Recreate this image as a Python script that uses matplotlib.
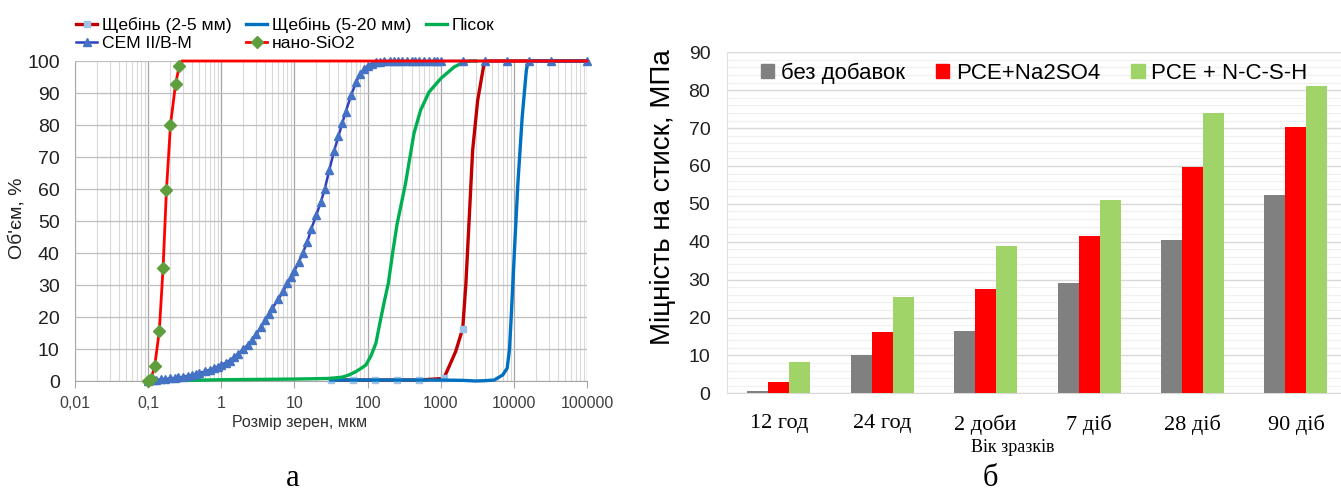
import matplotlib
matplotlib.use("Agg")
import matplotlib.pyplot as plt
from matplotlib.patches import Patch
from matplotlib.ticker import FixedLocator, NullFormatter
import numpy as np

plt.rcParams['font.family'] = ['Liberation Sans', 'DejaVu Sans']

# ---------------- Left chart data (particle size distribution) ----------------
sh25_x = [31.5, 63, 125, 250, 500, 1100, 1300, 1600, 2000, 2210, 2455, 2730, 3200, 3950, 4000, 100000]
sh25_y = [0.3, 0.3, 0.3, 0.3, 0.3, 0.8, 4.5, 9.2, 16.4, 30.5, 51, 72, 87.7, 99.7, 100, 100]
sh25_marked = [0, 1, 2, 3, 4, 5, 8]

sh520_x = [31.5, 63, 125, 250, 500, 1000, 2000, 3000, 4000, 5400, 7060, 8100, 8700, 9200,
           10200, 11350, 13000, 14800, 15600, 16000, 100000]
sh520_y = [0.3, 0.3, 0.3, 0.3, 0.3, 0.3, 0.2, 0.0, 0.1, 0.3, 1.9, 4.0, 9.7, 20, 41, 61.7,
           82.5, 97, 99.7, 100, 100]

sand_x = [0.35, 1, 10, 30, 45, 56, 70, 82, 95, 112, 130, 150, 170, 192, 220, 253, 290, 330,
          380, 430, 530, 692, 1000, 1520, 2000, 2500, 3000]
sand_y = [0.2, 0.4, 0.6, 0.8, 1.2, 1.9, 3.0, 4.0, 5.0, 8.0, 11.8, 19, 25, 30.5, 40, 49, 55.5,
          61.7, 70, 77.3, 84.6, 90.3, 94.5, 98.1, 99.5, 100, 100]

cem_x = [0.1, 0.115, 0.13, 0.15, 0.17, 0.2, 0.23, 0.26, 0.3, 0.35, 0.4, 0.45, 0.5, 0.6, 0.7,
         0.8, 0.9, 1.0, 1.15, 1.3, 1.5, 1.7, 2.0, 2.3, 2.6, 3.0, 3.5, 4.0, 4.5, 5.0, 6, 7, 8,
         9, 10, 11.5, 13, 15, 17, 20, 23, 26, 30, 35, 40, 45, 50, 60, 70, 80, 90, 100, 115,
         130, 150, 170, 200, 230, 260, 300, 350, 400, 450, 500, 600, 700, 800, 900, 1000,
         2000, 4000, 8000, 16000, 32000, 100000]
cem_y = [0, 0.2, 0.35, 0.5, 0.6, 0.8, 0.95, 1.1, 1.3, 1.6, 1.9, 2.2, 2.5, 3.0, 3.5, 4.0,
         4.5, 5.0, 5.7, 6.4, 7.4, 8.4, 9.9, 11.3, 12.7, 14.6, 16.9, 19.0, 21.0, 22.8, 25.5,
         28, 30.5, 32.6, 34.5, 37.2, 40, 43.5, 47.5, 52, 56, 60, 66, 72, 76.5, 80.5, 84,
         89.5, 93.5, 96, 97.5, 98.5, 99.2, 99.6, 99.8, 100, 100, 100, 100, 100, 100, 100,
         100, 100, 100, 100, 100, 100, 100, 100, 100, 100, 100, 100, 100]

nano_x = [0.1, 0.109, 0.123, 0.142, 0.160, 0.178, 0.202, 0.237, 0.266, 0.29, 100000]
nano_y = [0, 0.5, 4.7, 15.6, 35.3, 59.7, 80.0, 92.8, 98.4, 100, 100]
nano_marked = list(range(9))

x_ticks = [0.01, 0.1, 1, 10, 100, 1000, 10000, 100000]
x_tick_labels = ['0,01', '0,1', '1', '10', '100', '1000', '10000', '100000']

# ---------------- Right chart data (compressive strength) ----------------
ages = ['12 год', '24 год', '2 доби', '7 діб', '28 діб', '90 діб']
no_add = [0.7, 10.0, 16.4, 29.0, 40.4, 52.3]
pce_na = [3.0, 16.2, 27.4, 41.4, 59.7, 70.2]
pce_ncsh = [8.3, 25.4, 38.9, 51.1, 73.9, 81.1]

W, H = 1341, 492
fig = plt.figure(figsize=(W / 100, H / 100), dpi=100)

def fx(px):
    return px / W

def fy(py):
    return 1 - py / H

# ---------------- Left axes ----------------
axl = fig.add_axes([fx(75), fy(381), fx(587) - fx(75), fy(61) - fy(381)])
axl.set_xscale('log')
axl.set_xlim(0.01, 100000)
axl.set_ylim(0, 100)
minor = []
for d in range(-2, 5):
    for m in range(2, 10):
        minor.append(m * 10.0 ** d)
axl.xaxis.set_major_locator(FixedLocator(x_ticks))
axl.xaxis.set_minor_locator(FixedLocator(minor))
axl.xaxis.set_minor_formatter(NullFormatter())
axl.set_xticks(x_ticks)
axl.set_xticklabels(x_tick_labels, fontsize=11.5, color='#404040')
axl.set_yticks(range(0, 101, 10))
axl.tick_params(axis='y', labelsize=14, length=0, pad=11, labelcolor='#202020')
axl.tick_params(axis='x', which='major', length=5, color='#A6A6A6', pad=6)
axl.tick_params(axis='x', which='minor', length=0)
axl.grid(True, axis='x', which='major', color='#A6A6A6', lw=0.9)
axl.grid(True, axis='x', which='minor', color='#D9D9D9', lw=0.8)
axl.grid(True, axis='y', which='major', color='#BFBFBF', lw=0.9)
for s in axl.spines.values():
    s.set_visible(False)
axl.spines['bottom'].set_visible(True)
axl.spines['bottom'].set_color('#A6A6A6')
axl.set_axisbelow(True)

l1, = axl.plot(sh25_x, sh25_y, color='#C00000', lw=2.4, marker='s', ms=5,
               mfc='#9DC3E6', mec='#9DC3E6', markevery=sh25_marked, clip_on=False, zorder=3)
l2, = axl.plot(sh520_x, sh520_y, color='#0070C0', lw=2.4, clip_on=False, zorder=3.1)
l3, = axl.plot(sand_x, sand_y, color='#00B050', lw=2.4, clip_on=False, zorder=3.2)
l4, = axl.plot(cem_x, cem_y, color='#2F3FC0', lw=1.8, marker='^', ms=6,
               mfc='#4472C4', mec='#4472C4', clip_on=False, zorder=3.3)
l5, = axl.plot(nano_x, nano_y, color='#FF0000', lw=2.0, marker='D', ms=6.5,
               mfc='#5E9E3C', mec='#5E9E3C', markevery=nano_marked, clip_on=False, zorder=3.4)

axl.set_xlabel('Розмір зерен, мкм', fontsize=11.5, color='#303030', labelpad=0)
axl.xaxis.set_label_coords((300 - 75) / (587 - 75), -0.105)

fig.text(fx(17), fy(218), "Об'єм, %", rotation=90, fontsize=14, color='#202020',
         ha='center', va='center')

leg = fig.legend([l1, l4, l2, l5, l3],
                 ['Щебінь (2-5 мм)', 'CEM II/B-M', 'Щебінь (5-20 мм)', 'нано-SiO2', 'Пісок'],
                 ncol=3, loc='upper left', bbox_to_anchor=(fx(71), fy(12)), frameon=False,
                 fontsize=12.6, handlelength=1.2, handletextpad=0.25, columnspacing=0.85,
                 labelspacing=0.15, borderaxespad=0, borderpad=0.3)

# ---------------- Right axes ----------------
axr = fig.add_axes([fx(727), fy(393.3), fx(1347.6) - fx(727), fy(52.3) - fy(393.3)])
xpos = np.arange(len(ages))
bw = 0.203
axr.bar(xpos - bw, no_add, bw, color='#808080', zorder=3)
axr.bar(xpos, pce_na, bw, color='#FF0000', zorder=3)
axr.bar(xpos + bw, pce_ncsh, bw, color='#A0D468', zorder=3)
axr.set_xlim(-0.5, len(ages) - 0.5)
axr.set_ylim(0, 90)
axr.set_yticks(range(0, 91, 10))
axr.set_yticks(range(0, 91, 2), minor=True)
axr.grid(True, axis='y', which='major', color='#D9D9D9', lw=1.0)
axr.grid(True, axis='y', which='minor', color='#F0F0F0', lw=0.9)
axr.set_axisbelow(True)
axr.tick_params(axis='y', which='both', length=0, labelsize=14, pad=12, labelcolor='#202020')
axr.tick_params(axis='x', length=0, pad=15)
axr.set_xticks(xpos)
axr.set_xticklabels(ages, fontsize=16, family=['Liberation Serif', 'DejaVu Serif'])
for s in ['top', 'right']:
    axr.spines[s].set_visible(False)
axr.spines['bottom'].set_color('#D9D9D9')
axr.spines['left'].set_color('#E0E0E0')
axr.set_xlabel('Вік зразків', fontsize=13, family=['Liberation Serif', 'DejaVu Serif'],
               labelpad=-2)
axr.xaxis.set_label_coords((1013 - 727) / (1347.6 - 727), -0.135)

fig.text(fx(663), fy(197), 'Міцність на стиск, МПа', rotation=90, fontsize=20,
         ha='center', va='center')

handles = [Patch(color='#808080'), Patch(color='#FF0000'), Patch(color='#A0D468')]
axr.legend(handles, ['без добавок', 'PCE+Na2SO4', 'PCE + N-C-S-H'], ncol=3,
           loc='upper left', bbox_to_anchor=((752 - 727) / (1347.6 - 727), 0.995),
           frameon=False, fontsize=16, handlelength=0.6, handleheight=0.6,
           handletextpad=0.3, columnspacing=1.4, borderaxespad=0)

# panel labels
fig.text(fx(293), fy(478), 'а', fontsize=22, family=['Liberation Serif', 'DejaVu Serif'],
         ha='center', va='center')
fig.text(fx(990), fy(478), 'б', fontsize=22, family=['Liberation Serif', 'DejaVu Serif'],
         ha='center', va='center')

fig.savefig('out.png', dpi=100)
